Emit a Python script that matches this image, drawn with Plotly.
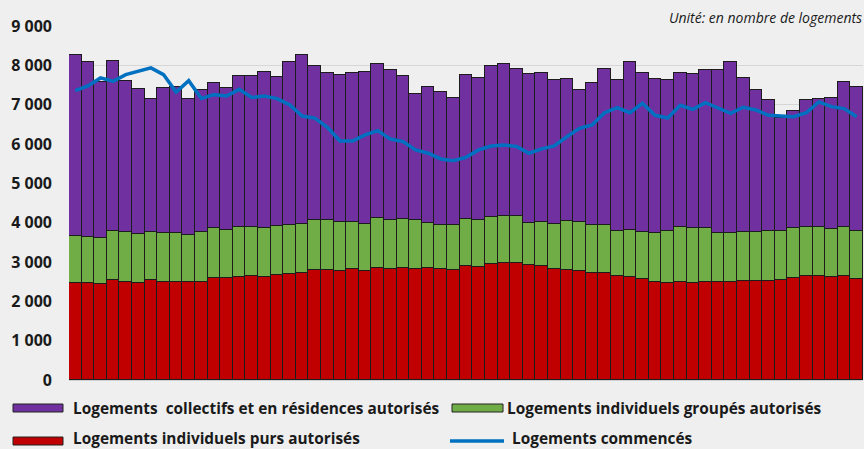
import plotly.graph_objects as go

periods = [f"P{i+1:02d}" for i in range(63)]

individuels_purs = [2470, 2470, 2440, 2540, 2480, 2475, 2540, 2480, 2480, 2480,
                    2490, 2590, 2590, 2610, 2635, 2625, 2670, 2695, 2720, 2795,
                    2795, 2770, 2820, 2770, 2840, 2830, 2840, 2830, 2840, 2830,
                    2800, 2890, 2880, 2960, 2965, 2965, 2915, 2890, 2830, 2800,
                    2780, 2720, 2710, 2635, 2610, 2560, 2485, 2460, 2485, 2465,
                    2490, 2500, 2490, 2515, 2525, 2525, 2545, 2595, 2635, 2645,
                    2610, 2635, 2560]

individuels_groupes = [1200, 1175, 1180, 1255, 1275, 1235, 1225, 1250, 1250, 1215,
                       1275, 1265, 1225, 1280, 1255, 1240, 1245, 1245, 1255, 1275,
                       1265, 1240, 1205, 1190, 1285, 1230, 1245, 1230, 1160, 1110,
                       1140, 1210, 1190, 1185, 1195, 1195, 1075, 1135, 1135, 1245,
                       1230, 1230, 1220, 1160, 1205, 1195, 1245, 1335, 1415, 1390,
                       1365, 1230, 1255, 1240, 1230, 1255, 1250, 1260, 1265, 1235,
                       1230, 1245, 1235]

collectifs = [4600, 4440, 3965, 4325, 3840, 3695, 3380, 3685, 3720, 3460,
              3615, 3695, 3610, 3830, 3830, 3955, 3780, 4135, 4280, 3915,
              3735, 3735, 3770, 3860, 3920, 3815, 3635, 3220, 3450, 3390,
              3220, 3655, 3600, 3845, 3885, 3740, 3790, 3770, 3660, 3600,
              3370, 3610, 3980, 3830, 4270, 4060, 3930, 3825, 3895, 3915,
              4035, 4160, 4350, 3915, 3625, 3340, 2860, 2975, 3210, 3275,
              3340, 3690, 3665]

commences = [7355, 7475, 7680, 7595, 7765, 7850, 7935, 7765, 7320, 7610,
             7155, 7255, 7220, 7390, 7185, 7220, 7155, 7000, 6710, 6660,
             6425, 6075, 6075, 6230, 6340, 6125, 6060, 5850, 5765, 5620,
             5575, 5660, 5850, 5950, 5975, 5935, 5765, 5875, 5950, 6185,
             6400, 6485, 6795, 6925, 6795, 7035, 6730, 6660, 6985, 6880,
             7050, 6915, 6780, 6935, 6865, 6730, 6720, 6695, 6795, 7070,
             6950, 6900, 6695]

y_ticks = [0, 1000, 2000, 3000, 4000, 5000, 6000, 7000, 8000, 9000]
y_tick_labels = ["0", "1 000", "2 000", "3 000", "4 000", "5 000", "6 000", "7 000", "8 000", "9 000"]

names = ["Logements  collectifs et en résidences autorisés",
         "Logements individuels groupés autorisés",
         "Logements individuels purs autorisés",
         "Logements commencés"]

RED = "#C00000"
GREEN = "#70AD47"
PURPLE = "#7030A0"
BLUE = "#0070C0"
BG = "#EFEFEF"
FONT = "Open Sans"

# plot area in pixels
L, R, T, B = 69, 863, 26, 380
W, H = 864, 449

fig = go.Figure()
outline = dict(color="#1c1c1c", width=1)
fig.add_trace(go.Bar(x=periods, y=individuels_purs, name=names[2],
                     marker=dict(color=RED, line=outline)))
fig.add_trace(go.Bar(x=periods, y=individuels_groupes, name=names[1],
                     marker=dict(color=GREEN, line=outline)))
fig.add_trace(go.Bar(x=periods, y=collectifs, name=names[0],
                     marker=dict(color=PURPLE, line=outline)))
fig.add_trace(go.Scatter(x=periods, y=commences, name=names[3], mode="lines",
                         line=dict(color=BLUE, width=3.5)))

fig.update_layout(
    width=W, height=H,
    margin=dict(l=L, r=W - R, t=T, b=H - B),
    paper_bgcolor=BG, plot_bgcolor=BG,
    barmode="stack", bargap=0,
    showlegend=False,
    font=dict(family=FONT, color="#1a1a1a"),
)
fig.update_xaxes(showticklabels=False, showgrid=False, showline=True,
                 linecolor="#d0d0d0", linewidth=1, ticks="", zeroline=False)
fig.update_yaxes(range=[0, 9000], tickvals=y_ticks, ticktext=y_tick_labels,
                 showgrid=True, gridcolor="#d6d6d6", gridwidth=1, zeroline=False,
                 tickfont=dict(family=FONT, size=16, color="#1a1a1a", weight="bold"),
                 ticks="", ticklabelstandoff=16)


def px_x(px):
    return (px - L) / (R - L)


def px_y(py):
    return (B - py) / (B - T)


# unit note
fig.add_annotation(xref="paper", yref="paper", x=px_x(864), y=px_y(18),
                   xanchor="right", yanchor="middle", showarrow=False,
                   text="<i>Unité: en nombre de logements</i>",
                   font=dict(family=FONT, size=14, color="#1a1a1a"))

# manual legend: (swatch x0, x1, swatch y, colour, kind, text x, text y, label)
legend_items = [
    (13, 63, 408, PURPLE, "rect", 72, 408, names[0]),
    (452, 503, 408, GREEN, "rect", 506, 408, names[1]),
    (13, 63, 441, RED, "rect", 72, 438, names[2]),
    (450, 504, 441, BLUE, "line", 511, 438, names[3]),
]
shapes = []
for x0, x1, yc, col, kind, tx, ty, label in legend_items:
    if kind == "rect":
        shapes.append(dict(type="rect", xref="paper", yref="paper",
                           xsizemode="pixel", ysizemode="pixel",
                           xanchor=px_x(x0), yanchor=px_y(yc),
                           x0=0, x1=x1 - x0, y0=-4, y1=4,
                           fillcolor=col, line=dict(color="#222222", width=1)))
    else:
        shapes.append(dict(type="line", xref="paper", yref="paper",
                           xsizemode="pixel", ysizemode="pixel",
                           xanchor=px_x(x0), yanchor=px_y(yc),
                           x0=0, x1=x1 - x0, y0=0, y1=0,
                           line=dict(color=col, width=3.5)))
    fig.add_annotation(xref="paper", yref="paper", x=px_x(tx), y=px_y(ty),
                       xanchor="left", yanchor="middle", showarrow=False,
                       text=label, borderpad=0,
                       font=dict(family=FONT, size=15.4, color="#1a1a1a", weight="bold"))
fig.update_layout(shapes=shapes)

fig.write_html("out.html", config={"displayModeBar": False},
               post_script="document.body.style.margin='0';document.body.style.background='%s';" % BG)
